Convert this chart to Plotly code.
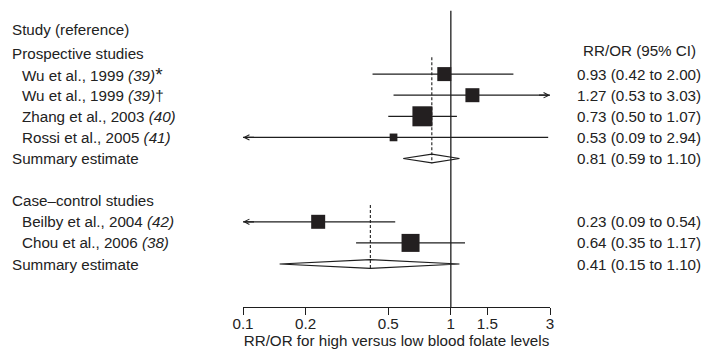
import math
import plotly.graph_objects as go

# ---------------- data ----------------
group_names = ["Prospective studies", "Case\u2013control studies"]
group_members = [[0, 1, 2, 3], [4, 5]]

study_names = ["Wu et al., 1999", "Wu et al., 1999", "Zhang et al., 2003",
               "Rossi et al., 2005", "Beilby et al., 2004", "Chou et al., 2006"]
study_refs = ["(39)", "(39)", "(40)", "(41)", "(42)", "(38)"]
study_marks = ["*", "\u2020", "", "", "", ""]
study_est = [0.93, 1.27, 0.73, 0.53, 0.23, 0.64]
study_lo = [0.42, 0.53, 0.50, 0.09, 0.09, 0.35]
study_hi = [2.00, 3.03, 1.07, 2.94, 0.54, 1.17]
study_weight = [23, 23, 47, 7, 23, 38]

summary_est = [0.81, 0.41]
summary_lo = [0.59, 0.15]
summary_hi = [1.10, 1.10]

tick_vals = [0.1, 0.2, 0.5, 1, 1.5, 3]
tick_text = ["0.1", "0.2", "0.5", "1", "1.5", "3"]
x_min, x_max = 0.1, 3.0

# ---------------- layout geometry ----------------
W, H = 706, 358
L, R = 243, 156
T, B = 0, 51
PW = W - L - R
PH = H - T - B
row0_px = 53.0      # pixel of first group header row
row_px = 21.1       # pixel per row
y_top = (0 - row0_px) / row_px
y_bot = (PH - row0_px) / row_px

FONT = "Liberation Sans, Arial, Helvetica, sans-serif"
FS = 15.2
TXT = "#222222"
INK = "#1e1e1e"

def px_to_paper(px):
    return (px - L) / PW

fig = go.Figure()
annotations = []

# rows
row = 0
group_rows, study_rows, summary_rows = [], [None] * len(study_names), []
for g, members in enumerate(group_members):
    group_rows.append(row)
    row += 1
    for i in members:
        study_rows[i] = row
        row += 1
    summary_rows.append(row)
    row += 2

# reference line at 1
fig.add_trace(go.Scatter(x=[1, 1], y=[-2.0, y_bot], mode="lines",
                         line=dict(color=INK, width=1.3), hoverinfo="skip",
                         showlegend=False, cliponaxis=False))

# dotted summary lines
for g in range(len(group_members)):
    fig.add_trace(go.Scatter(x=[summary_est[g]] * 2,
                             y=[group_rows[g] + 0.2, summary_rows[g] + 0.22],
                             mode="lines",
                             line=dict(color=INK, width=1.1, dash="3px,2px"),
                             hoverinfo="skip", showlegend=False))

# CI lines and arrows
for i in range(len(study_names)):
    y = study_rows[i]
    a = max(study_lo[i], x_min)
    b = min(study_hi[i], x_max)
    fig.add_trace(go.Scatter(x=[a, b], y=[y, y], mode="lines",
                             line=dict(color=INK, width=1.3),
                             hoverinfo="skip", showlegend=False, cliponaxis=False))
    if study_lo[i] < x_min:
        annotations.append(dict(x=math.log10(x_min), y=y, ax=math.log10(x_min) + 0.06, ay=y,
                                xref="x", yref="y", axref="x", ayref="y", text="",
                                showarrow=True, arrowhead=5, arrowsize=0.8,
                                arrowwidth=1.3, arrowcolor=INK))
    if study_hi[i] > x_max:
        annotations.append(dict(x=math.log10(x_max), y=y, ax=math.log10(x_max) - 0.06, ay=y,
                                xref="x", yref="y", axref="x", ayref="y", text="",
                                showarrow=True, arrowhead=5, arrowsize=0.8,
                                arrowwidth=1.3, arrowcolor=INK))

# squares
fig.add_trace(go.Scatter(x=study_est, y=study_rows, mode="markers", opacity=1,
                         marker=dict(symbol="square", color="#231f20", opacity=1,
                                     size=[2.92 * math.sqrt(w) for w in study_weight],
                                     line=dict(width=0)),
                         hoverinfo="skip", showlegend=False, cliponaxis=False))

# diamonds
h = 0.21
for g in range(len(group_members)):
    y = summary_rows[g]
    fig.add_trace(go.Scatter(x=[summary_lo[g], summary_est[g], summary_hi[g], summary_est[g], summary_lo[g]],
                             y=[y, y - h, y, y + h, y], mode="lines",
                             line=dict(color=INK, width=1.2),
                             hoverinfo="skip", showlegend=False, cliponaxis=False))

# text
def label(text, px, y, anchor="left"):
    annotations.append(dict(x=px_to_paper(px), y=y, xref="paper", yref="y",
                            text=text, showarrow=False, xanchor=anchor, yanchor="middle",
                            font=dict(family=FONT, size=FS, color=TXT)))

def mark_html(m):
    if m == "*":
        return '<span style="font-size:19px">*</span>'
    return m

x_grp = 9.5
x_std = 19.8
x_val = 639.0
label("Study (reference)", x_grp, -1.13)
label("RR/OR (95% CI)", x_val, -0.12, anchor="center")
for g, members in enumerate(group_members):
    label(group_names[g], x_grp, group_rows[g])
    for i in members:
        label(f"{study_names[i]} <i>{study_refs[i]}</i>{mark_html(study_marks[i])}", x_std, study_rows[i])
        label(f"{study_est[i]:.2f} ({study_lo[i]:.2f} to {study_hi[i]:.2f})", x_val, study_rows[i], "center")
    label("Summary estimate", x_grp, summary_rows[g])
    label(f"{summary_est[g]:.2f} ({summary_lo[g]:.2f} to {summary_hi[g]:.2f})", x_val, summary_rows[g], "center")

fig.update_layout(
    width=W, height=H,
    margin=dict(l=L, r=R, t=T, b=B, pad=0),
    paper_bgcolor="white", plot_bgcolor="white",
    annotations=annotations,
    font=dict(family=FONT, size=FS, color=TXT),
    xaxis=dict(type="log", range=[math.log10(x_min), math.log10(x_max)],
               tickvals=tick_vals, ticktext=tick_text,
               ticks="outside", ticklen=7, tickwidth=1.3, tickcolor=INK,
               ticklabelstandoff=-4,
               showline=True, linecolor=INK, linewidth=1.3,
               showgrid=False, zeroline=False,
               tickfont=dict(family=FONT, size=FS, color=TXT),
               title=dict(text="RR/OR for high versus low blood folate levels",
                          font=dict(family=FONT, size=FS, color=TXT), standoff=2)),
    yaxis=dict(range=[y_bot, y_top], visible=False),
)

fig.write_html("out.html", config={"displayModeBar": False},
               post_script="document.body.style.margin='0';document.body.style.overflow='hidden';")
